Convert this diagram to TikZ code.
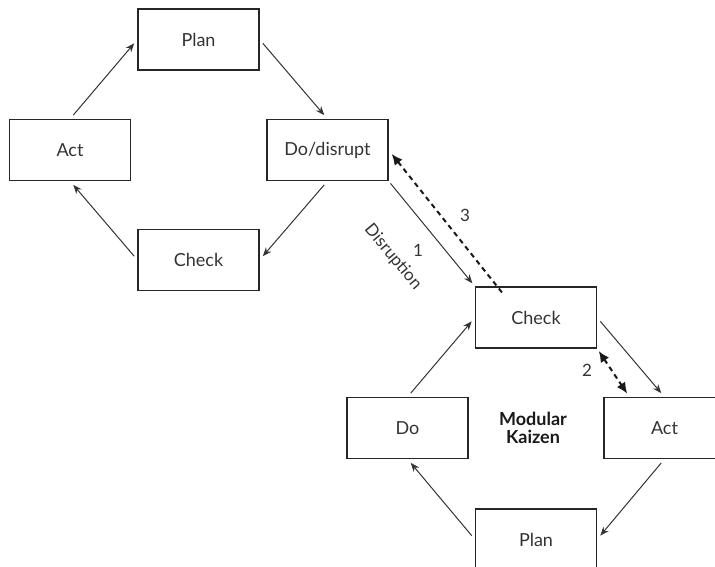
\documentclass[tikz,border=0pt]{standalone}
\usepackage{fontspec}
\setmainfont{Lato}
\usetikzlibrary{arrows.meta}

\begin{document}
\begin{tikzpicture}[x=1pt, y=-1pt,
  box/.style={draw=black!85, line width=1.1pt, minimum width=121pt, minimum height=61pt, inner sep=0pt, text=black!80, font=\fontsize{18}{21}\selectfont},
  flow/.style={draw=black!80, line width=1pt, -{Stealth[length=9pt,width=7pt]}, shorten >=5pt, shorten <=5pt},
  back/.style={draw=black!90, line width=2pt, dash pattern=on 5pt off 4pt},
  lbl/.style={text=black!80, font=\fontsize{17}{20}\selectfont}]
\useasboundingbox (0,0) rectangle (715,567);
\clip (0,0) rectangle (715,567);
\node[box] (planA) at (198.5,39.5) {Plan};
\node[box] (actA) at (70,150) {Act};
\node[box] (doA) at (327.5,150) {Do/disrupt};
\node[box] (checkA) at (198.5,260) {Check};
\node[box] (checkB) at (536,317.5) {Check};
\node[box] (doB) at (407.5,428) {Do};
\node[box] (actB) at (664.5,428) {Act};
\node[box] (planB) at (536,539.5) {Plan};
\node[font=\fontsize{18}{21}\selectfont\bfseries, align=center, text=black!90] (mk) at (533,428) {Modular\\[-3pt]Kaizen};
\draw[flow] (actA.north) -- (planA.west);
\draw[flow] (planA.east) -- (doA.north);
\draw[flow] (doA.south) -- (checkA.east);
\draw[flow] (checkA.west) -- (actA.south);
\draw[flow] (doB.north) -- (checkB.west);
\draw[flow] (checkB.east) -- (actB.north);
\draw[flow] (actB.south) -- (planB.east);
\draw[flow] (planB.west) -- (doB.south);
\draw[flow, shorten <=3pt, shorten >=4pt] (doA.south east) -- (checkB.north west);
\coordinate (startC) at ([xshift=27pt, yshift=-6pt]checkB.north west);
\draw[back, -{Latex[length=11pt,width=10pt]}, shorten >=5pt] (startC) -- (doA.east);
\draw[back, {Latex[length=11pt,width=10pt]}-{Latex[length=11pt,width=10pt]}, shorten <=3pt, shorten >=4pt] (checkB.south east) -- ([xshift=26pt]actB.north west);
\node[lbl, rotate=-50] (disr) at (393,257) {Disruption};
\node[lbl] (one) at (418,250) {1};
\node[lbl] (three) at (465,215) {3};
\node[lbl] (two) at (587,370) {2};
\end{tikzpicture}
\end{document}
